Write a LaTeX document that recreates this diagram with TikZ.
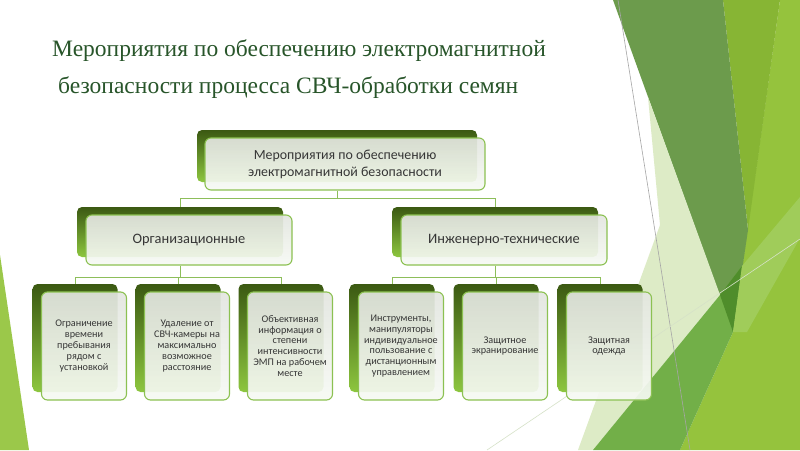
\documentclass[tikz,border=0pt]{standalone}
\usepackage{fontspec}
\setmainfont{Liberation Serif}
\newfontfamily\boxfont{Carlito}
\usetikzlibrary{calc}
\definecolor{bktop}{HTML}{3B5912}
\definecolor{bkbot}{HTML}{8DC63F}
\definecolor{frtop}{HTML}{E3E6E0}
\definecolor{frbot}{HTML}{F7FAF4}
\definecolor{frborder}{HTML}{8CC152}
\definecolor{conncol}{HTML}{8DBE5A}
\definecolor{txt}{HTML}{363636}
\definecolor{titlecol}{HTML}{28552A}
\definecolor{lyg}{HTML}{95C33D}
\definecolor{dyg}{HTML}{87B534}
\definecolor{darkA}{HTML}{6C9B4C}
\definecolor{pale}{HTML}{DDEBC6}
\definecolor{midg}{HTML}{72AF48}
\definecolor{ovl}{HTML}{4F8D2B}
\definecolor{band}{HTML}{A0CC5A}
\definecolor{sliver}{HTML}{9BC84A}
\definecolor{faint}{HTML}{D6E2C8}
\begin{document}
\begin{tikzpicture}[x=1pt,y=-1pt,
  backbox/.style={rectangle, rounded corners=5pt, top color=bktop, bottom color=bkbot, inner sep=0pt},
  frontbox/.style={rectangle, rounded corners=6pt, draw=frborder, line width=1.1pt, top color=frtop, bottom color=frbot, fill opacity=0.92, text opacity=1, inner sep=0pt, align=center, text=txt},
  size0/.style={minimum width=280pt, minimum height=52pt},
  size1/.style={minimum width=206pt, minimum height=50pt},
  size2/.style={minimum width=85pt, minimum height=108pt},
  tf0/.style={font={\boxfont\fontsize{13.9}{16.8}\selectfont}},
  tf1/.style={font={\boxfont\fontsize{14.4}{17}\selectfont}},
  tf2/.style={font={\boxfont\fontsize{10.2}{10.9}\selectfont}},
  conn/.style={draw=conncol, line width=0.9pt}
]
\useasboundingbox (0,0) rectangle (800,450);
\fill[white] (0,0) rectangle (800,450);
% background facets
\fill[sliver] (0,255) -- (29,450) -- (0,450) -- cycle;
\fill[lyg] (780,0) -- (800,0) -- (800,450) -- (680,450) -- (733,332) -- cycle;
\fill[dyg] (723,0) -- (780,0) -- (748,230) -- cycle;
\fill[darkA] (613,0) -- (723,0) -- (748,230) -- (733,332) -- cycle;
\fill[pale] (648,97) -- (720,295) -- (593,450) -- (578,450) -- (660,225) -- cycle;
\fill[midg] (593,450) -- (720,295) -- (742,266) -- (733,332) -- (680,450) -- cycle;
\fill[ovl] (720,295) -- (742,266) -- (733,332) -- cycle;
\fill[band] (742,266) -- (800,197) -- (800,238) -- (747,332) -- (733,332) -- cycle;
\draw[color=gray!70, line width=0.6pt] (618,0) -- (690,450);
\draw[color=faint, line width=0.6pt] (487,450) -- (800,239);
% title
\node[anchor=base west, text=titlecol, font=\fontsize{23.5}{28}\selectfont, inner sep=0pt] (title1) at (52,56) {Мероприятия по обеспечению электромагнитной};
\node[anchor=base west, text=titlecol, font=\fontsize{23.5}{28}\selectfont, inner sep=0pt] (title2) at (58,93) {безопасности процесса СВЧ-обработки семян};
% level 0
\node[backbox,size0] (b0) at (337,156) {};
\node[frontbox,size0,tf0] (f0) at (345,164) {Мероприятия по обеспечению\\электромагнитной безопасности};
% level 1
\node[backbox,size1] (b1) at (180,232) {};
\node[frontbox,size1,tf1] (f1) at (189,240) {Организационные};
\node[backbox,size1] (b2) at (495,232) {};
\node[frontbox,size1,tf1] (f2) at (504,240) {Инженерно-технические};
% level 2
\node[backbox,size2] (b11) at (75,338) {};
\node[frontbox,size2,tf2] (f11) at (84,346) {Ограничение\\времени\\пребывания\\рядом с\\установкой};
\node[backbox,size2] (b12) at (178,338) {};
\node[frontbox,size2,tf2] (f12) at (187,346) {Удаление от\\СВЧ-камеры на\\максимально\\возможное\\расстояние};
\node[backbox,size2] (b13) at (281,338) {};
\node[frontbox,size2,tf2] (f13) at (290,346) {Объективная\\информация о\\степени\\интенсивности\\ЭМП на рабочем\\месте};
\node[backbox,size2] (b21) at (392,338) {};
\node[frontbox,size2,tf2] (f21) at (401,346) {Инструменты,\\манипуляторы\\индивидуальное\\пользование с\\дистанционным\\управлением};
\node[backbox,size2] (b22) at (496,338) {};
\node[frontbox,size2,tf2] (f22) at (505,346) {Защитное\\экранирование};
\node[backbox,size2] (b23) at (600,338) {};
\node[frontbox,size2,tf2] (f23) at (609,346) {Защитная\\одежда};
% connectors
\coordinate (bus0) at (0,198);
\coordinate (bus1) at (0,277);
\draw[conn] (f0.south -| b0.center) -- (b0.center |- bus0);
\draw[conn] (b1.north |- bus0) -- (b2.north |- bus0);
\draw[conn] (b1.north |- bus0) -- (b1.north);
\draw[conn] (b2.north |- bus0) -- (b2.north);
\draw[conn] (f1.south -| b1.center) -- (b1.center |- bus1);
\draw[conn] (b11.north |- bus1) -- (b13.north |- bus1);
\draw[conn] (b11.north |- bus1) -- (b11.north);
\draw[conn] (b12.north |- bus1) -- (b12.north);
\draw[conn] (b13.north |- bus1) -- (b13.north);
\draw[conn] (f2.south -| b2.center) -- (b2.center |- bus1);
\draw[conn] (b21.north |- bus1) -- (b23.north |- bus1);
\draw[conn] (b21.north |- bus1) -- (b21.north);
\draw[conn] (b22.north |- bus1) -- (b22.north);
\draw[conn] (b23.north |- bus1) -- (b23.north);
\end{tikzpicture}
\end{document}
